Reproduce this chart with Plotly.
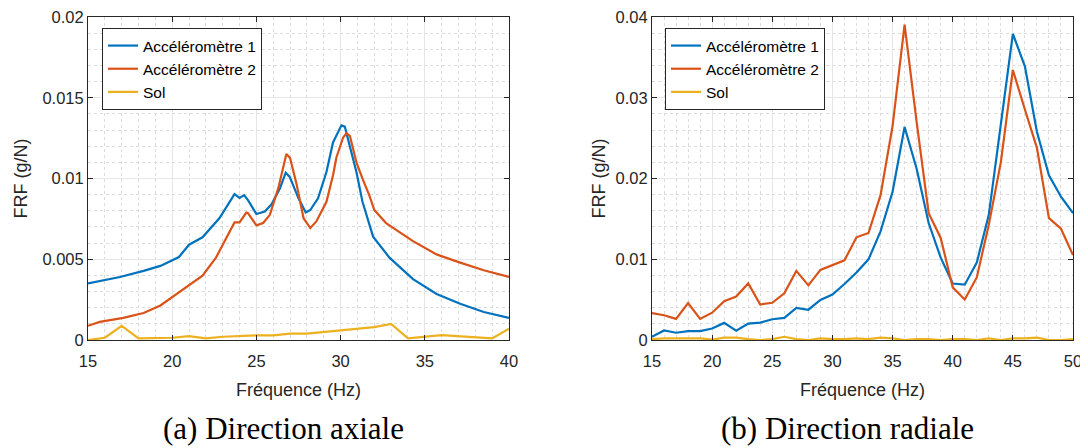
import plotly.graph_objects as go

# ---- Left panel (axial) data ----
ax_f1 = [15, 16.9, 18.3, 19.3, 20.4, 21.0, 21.8, 22.8, 23.7, 24.0, 24.27, 24.5, 25.0, 25.5, 25.9, 26.4,
         26.74, 26.98, 27.5, 27.93, 28.2, 28.66, 29.16, 29.55, 30.05, 30.25, 30.94, 31.3, 31.93, 32.9,
         34.3, 35.7, 37.1, 38.5, 40]
ax_a1 = [0.0035, 0.0039, 0.00428, 0.00459, 0.00514, 0.0059, 0.00636, 0.00754, 0.00903, 0.0088, 0.00897, 0.00866,
         0.0078, 0.00795, 0.0084, 0.0094, 0.01036, 0.0101, 0.00877, 0.00789, 0.00805, 0.00877, 0.0104, 0.01223,
         0.01329, 0.01321, 0.0104, 0.00856, 0.0064, 0.0051, 0.00377, 0.00285, 0.00224, 0.00173, 0.00137]

ax_f2 = [15, 15.7, 17.1, 18.3, 19.3, 20.4, 21.8, 22.6, 23.2, 23.7, 24.0, 24.4, 24.5, 25.0, 25.4, 25.8, 26.3,
         26.78, 27.0, 27.4, 27.8, 28.2, 28.56, 29.16, 29.55, 29.75, 30.15, 30.35, 30.55, 30.94, 31.3, 31.7,
         32.0, 32.7, 34.3, 35.7, 37.1, 38.5, 40]
ax_a2 = [0.00088, 0.00112, 0.00137, 0.00167, 0.00214, 0.00296, 0.00398, 0.0051, 0.00632, 0.00728, 0.00728,
         0.00789, 0.00785, 0.0071, 0.00724, 0.00775, 0.0094, 0.01152, 0.01127, 0.00958, 0.00754, 0.00693,
         0.00734, 0.00856, 0.0102, 0.0113, 0.01254, 0.0128, 0.01264, 0.0110, 0.00999, 0.00897, 0.00805,
         0.00724, 0.00612, 0.0053, 0.00479, 0.00432, 0.00391]

ax_fs = [15, 16, 17, 18, 20, 21, 22, 23, 25, 26, 27, 28, 30, 32, 33, 34, 36, 39, 40]
ax_sol = [0.0, 0.00014, 0.00088, 0.0001, 0.00014, 0.00024, 0.0001, 0.0002, 0.00029, 0.00029, 0.0004,
          0.0004, 0.0006, 0.0008, 0.001, 0.0001, 0.0003, 0.0001, 0.0007]

# ---- Right panel (radial) data ----
rad_f = list(range(15, 51))
rad_a1 = [0.0004, 0.00118, 0.0009, 0.0011, 0.0011, 0.00143, 0.00212, 0.00114, 0.00204, 0.00216, 0.00257,
          0.00273, 0.00396, 0.00375, 0.00497, 0.00563, 0.00693, 0.00836, 0.00999, 0.01346, 0.01835, 0.02638,
          0.0212, 0.01448, 0.0102, 0.0070, 0.00685, 0.00958, 0.0155, 0.027, 0.0379, 0.0339, 0.0258,
          0.0204, 0.01774, 0.0157]
rad_a2 = [0.00334, 0.00306, 0.00261, 0.00457, 0.00261, 0.00338, 0.00481, 0.00538, 0.00701, 0.0044, 0.00461,
          0.00579, 0.00856, 0.00677, 0.00868, 0.00926, 0.00987, 0.01272, 0.01325, 0.01794, 0.0265, 0.03906,
          0.027, 0.0157, 0.01264, 0.00652, 0.00501, 0.00775, 0.01427, 0.022, 0.03344, 0.02854, 0.0238,
          0.01509, 0.01378, 0.01052]
rad_sol = [0.0001, 0.0002, 0.0002, 0.0002, 0.0002, 0.00005, 0.0003, 0.0003, 0.0001, 0.0, 0.0001, 0.0004,
           0.0001, 0.0, 0.0002, 0.0001, 0.0001, 0.0002, 0.0001, 0.0003, 0.0002, 0.0, 0.0001, 0.0001, 0.0,
           0.0001, 0.0001, 0.0, 0.0002, 0.0, 0.0002, 0.0002, 0.0003, 0.0, 0.0, 0.0001]

names = ["Accéléromètre 1", "Accéléromètre 2", "Sol"]
colors = ["#0072BD", "#D95319", "#EDB120"]

left_x_ticks = [15, 20, 25, 30, 35, 40]
right_x_ticks = [15, 20, 25, 30, 35, 40, 45, 50]
left_y_ticks = [0, 0.005, 0.01, 0.015, 0.02]
left_y_text = ["0", "0.005", "0.01", "0.015", "0.02"]
right_y_ticks = [0, 0.01, 0.02, 0.03, 0.04]
right_y_text = ["0", "0.01", "0.02", "0.03", "0.04"]

fig = go.Figure()
for xs, ys, n, c in zip([ax_f1, ax_f2, ax_fs], [ax_a1, ax_a2, ax_sol], names, colors):
    fig.add_trace(go.Scatter(x=xs, y=ys, name=n, mode="lines", line=dict(color=c, width=2.2),
                             xaxis="x", yaxis="y", legend="legend"))
for ys, n, c in zip([rad_a1, rad_a2, rad_sol], names, colors):
    fig.add_trace(go.Scatter(x=rad_f, y=ys, name=n, mode="lines", line=dict(color=c, width=2.2),
                             xaxis="x2", yaxis="y2", legend="legend2"))

SANS = "Liberation Sans, Arial, sans-serif"
tickfont = dict(family=SANS, size=16.5, color="#262626")
titlefont = dict(family=SANS, size=18, color="#262626")

# page is offset by the 8px body margin: figure is 1080x440 placed at (8, 8)
W, H, OFF = 1080, 440, 8
def px(xp):
    return (xp - OFF) / W
def py(yp):
    return 1 - (yp - OFF) / H

def axis_common():
    return dict(showline=True, linecolor="#262626", linewidth=1, mirror="ticks", ticks="inside",
                ticklen=5, tickcolor="#262626", tickfont=tickfont, showgrid=True, automargin=False,
                ticklabeloverflow="allow",
                gridcolor="#e6e6e6", gridwidth=1, zeroline=False,
                minor=dict(showgrid=True, gridcolor="#dcdcdc", griddash="dot", gridwidth=1, ticks=""))

ydom = [py(340), py(17)]
xl = axis_common(); xl.update(domain=[px(88), px(509)], range=[15, 40], tickvals=left_x_ticks, ticklabelstandoff=6,
                              title=dict(text="Fréquence (Hz)", font=titlefont, standoff=14), anchor="y")
xl["minor"]["dtick"] = 1
yl = axis_common(); yl.update(domain=ydom, range=[0, 0.02], tickvals=left_y_ticks, ticktext=left_y_text,
                              title=dict(text="FRF (g/N)", font=titlefont, standoff=10), anchor="x")
yl["minor"]["dtick"] = 0.001
xr = axis_common(); xr.update(domain=[px(652), px(1073)], range=[15, 50], tickvals=right_x_ticks, ticklabelstandoff=6,
                              title=dict(text="Fréquence (Hz)", font=titlefont, standoff=14), anchor="y2")
xr["minor"]["dtick"] = 1
yr = axis_common(); yr.update(domain=ydom, range=[0, 0.04], tickvals=right_y_ticks, ticktext=right_y_text,
                              title=dict(text="FRF (g/N)", font=titlefont, standoff=5), anchor="x2")
yr["minor"]["dtick"] = 0.002

legfont = dict(family=SANS, size=15.5, color="#000000")
fig.update_layout(
    width=W, height=H, margin=dict(l=0, r=0, t=0, b=0),
    paper_bgcolor="white", plot_bgcolor="white",
    xaxis=xl, yaxis=yl, xaxis2=xr, yaxis2=yr,
    legend=dict(x=px(102), y=py(28), xanchor="left", yanchor="top", bgcolor="white",
                bordercolor="#262626", borderwidth=1, font=legfont, tracegroupgap=0, itemwidth=30),
    legend2=dict(x=px(665), y=py(28), xanchor="left", yanchor="top", bgcolor="white",
                 bordercolor="#262626", borderwidth=1, font=legfont, tracegroupgap=0, itemwidth=30),
    annotations=[
        dict(text="(a) Direction axiale", x=px(283), y=py(428), xref="paper", yref="paper",
             xanchor="center", yanchor="middle",
             showarrow=False, font=dict(family="Liberation Serif, serif", size=31, color="#000000")),
        dict(text="(b) Direction radiale", x=px(847), y=py(428), xref="paper", yref="paper",
             xanchor="center", yanchor="middle",
             showarrow=False, font=dict(family="Liberation Serif, serif", size=31, color="#000000")),
    ],
)

fig.write_html("out.html")
